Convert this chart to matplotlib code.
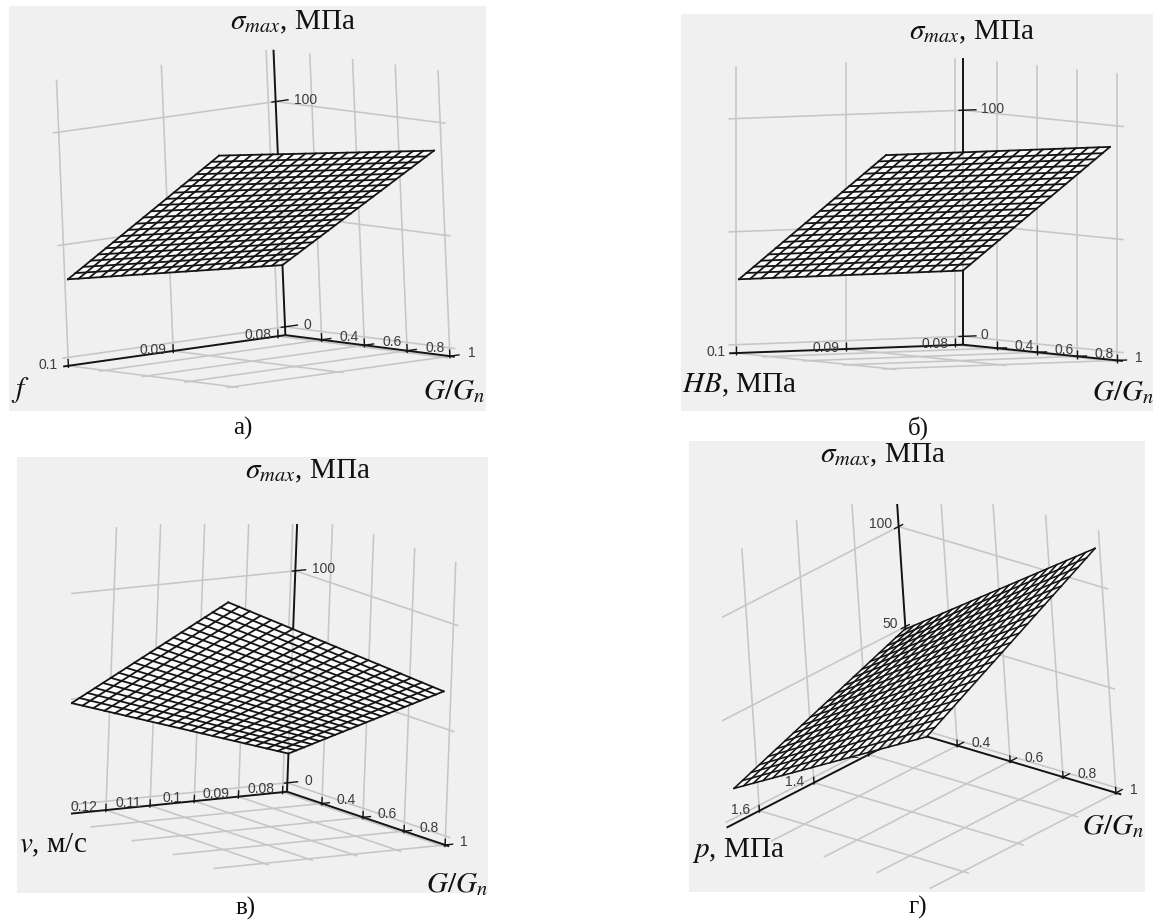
import numpy as np
import matplotlib
matplotlib.use("Agg")
import matplotlib.pyplot as plt
from matplotlib.patches import Rectangle
from mpl_toolkits.mplot3d import proj3d
from mpl_toolkits.mplot3d.art3d import Poly3DCollection

plt.rcParams["font.family"] = ["Liberation Serif", "DejaVu Serif"]
plt.rcParams["mathtext.fontset"] = "stix"

W, H = 1153, 921

# mesh nodes
g_nodes = [.23, .2668, .3035, .3403, .377, .4138, .4505, .4873, .524, .5608, .5975, .6343, .671, .7078, .7445, .7813, .818, .8548, .8915, .9283, .965]
g_nodes_p = [.284, .3189, .3538, .3887, .4236, .4585, .4934, .5283, .5632, .5981, .633, .6679, .7028, .7377, .7726, .8075, .8424, .8773, .9122, .9471, .982]
f_nodes = [.0793, .0803, .0813, .0824, .0834, .0844, .0854, .0864, .0875, .0885, .0895, .0905, .0915, .0926, .0936, .0946, .0956, .0966, .0977, .0987, .0997]
v_nodes = [.079, .0815, .084, .0865, .0889, .0914, .0939, .0964, .0989, .1014, .1039, .1063, .1088, .1113, .1138, .1163, .1188, .1212, .1237, .1262, .1287]
p_nodes = [1.04, 1.0747, 1.1094, 1.1441, 1.1788, 1.2135, 1.2482, 1.2829, 1.3176, 1.3523, 1.387, 1.4217, 1.4564, 1.4911, 1.5258, 1.5605, 1.5952, 1.6299, 1.6646, 1.6993, 1.734]

# sigma_max along the four edges of each surface, MPa
a_low_x = [27.4, 30.4, 33.4, 36.4, 39.3, 42.3, 45.3, 48.3, 51.3, 54.3, 57.3, 60.2, 63.2, 66.2, 69.2, 72.2, 75.2, 78.1, 81.1, 84.1, 87.1]
a_high_x = [34.5, 37.7, 40.9, 44.1, 47.3, 50.5, 53.6, 56.8, 60.0, 63.2, 66.4, 69.6, 72.8, 76.0, 79.2, 82.4, 85.5, 88.7, 91.9, 95.1, 98.3]
a_low_g = [27.4, 27.8, 28.1, 28.5, 28.8, 29.2, 29.5, 29.9, 30.2, 30.6, 31.0, 31.3, 31.7, 32.0, 32.4, 32.7, 33.1, 33.4, 33.8, 34.1, 34.5]
a_high_g = [87.1, 87.7, 88.2, 88.8, 89.3, 89.9, 90.5, 91.0, 91.6, 92.1, 92.7, 93.3, 93.8, 94.4, 94.9, 95.5, 96.1, 96.6, 97.2, 97.7, 98.3]

b_low_x = [29.1, 32.2, 35.2, 38.3, 41.4, 44.4, 47.5, 50.6, 53.6, 56.7, 59.8, 62.8, 65.9, 69.0, 72.0, 75.1, 78.1, 81.2, 84.3, 87.3, 90.4]
b_high_x = [28.9, 32.0, 35.1, 38.1, 41.2, 44.3, 47.4, 50.4, 53.5, 56.6, 59.7, 62.7, 65.8, 68.9, 72.0, 75.0, 78.1, 81.2, 84.2, 87.3, 90.4]
b_low_g = [29.1, 29.1, 29.1, 29.1, 29.1, 29.1, 29.0, 29.0, 29.0, 29.0, 29.0, 29.0, 29.0, 29.0, 29.0, 29.0, 28.9, 28.9, 28.9, 28.9, 28.9]
b_high_g = [90.4, 90.4, 90.4, 90.4, 90.4, 90.4, 90.4, 90.4, 90.4, 90.4, 90.4, 90.4, 90.4, 90.4, 90.4, 90.4, 90.4, 90.4, 90.4, 90.4, 90.4]

v_low_x = [13.8, 16.5, 19.1, 21.8, 24.5, 27.1, 29.8, 32.5, 35.1, 37.8, 40.5, 43.1, 45.8, 48.4, 51.1, 53.8, 56.4, 59.1, 61.8, 64.4, 67.1]
v_high_x = [48.1, 51.7, 55.3, 58.8, 62.4, 66.0, 69.6, 73.1, 76.7, 80.3, 83.9, 87.4, 91.0, 94.6, 98.2, 101.7, 105.3, 108.9, 112.5, 116.0, 119.6]
v_low_g = [13.8, 15.5, 17.2, 19.0, 20.7, 22.4, 24.1, 25.8, 27.5, 29.2, 31.0, 32.7, 34.4, 36.1, 37.8, 39.5, 41.2, 42.9, 44.7, 46.4, 48.1]
v_high_g = [67.1, 69.7, 72.4, 75.0, 77.6, 80.2, 82.9, 85.5, 88.1, 90.7, 93.4, 96.0, 98.6, 101.2, 103.9, 106.5, 109.1, 111.7, 114.4, 117.0, 119.6]

p_low_x = [-2.9, 3.2, 9.3, 15.3, 21.4, 27.5, 33.6, 39.7, 45.7, 51.8, 57.9, 64.0, 70.1, 76.1, 82.2, 88.3, 94.4, 100.5, 106.5, 112.6, 118.7]
p_high_x = [20.0, 25.3, 30.7, 36.0, 41.4, 46.7, 52.0, 57.4, 62.7, 68.1, 73.4, 78.7, 84.1, 89.4, 94.8, 100.1, 105.4, 110.8, 116.1, 121.5, 126.8]
p_low_g = [-2.9, -1.8, -.6, .5, 1.7, 2.8, 4.0, 5.1, 6.3, 7.4, 8.6, 9.7, 10.8, 12.0, 13.1, 14.3, 15.4, 16.6, 17.7, 18.9, 20.0]
p_high_g = [118.7, 119.1, 119.5, 119.9, 120.3, 120.7, 121.1, 121.5, 121.9, 122.3, 122.8, 123.2, 123.6, 124.0, 124.4, 124.8, 125.2, 125.6, 126.0, 126.4, 126.8]

# axis ticks
g_ticks = [.4, .6, .8, 1]
g_labels = ["0.4", "0.6", "0.8", "1"]
z_ticks = [0, 50, 100]
z_labels = ["0", "50", "100"]
f_ticks = [.08, .09, .1]
f_labels = ["0.08", "0.09", "0.1"]
v_ticks = [.08, .09, .1, .11, .12]
v_labels = ["0.08", "0.09", "0.1", "0.11", "0.12"]
p_ticks = [1.2, 1.4, 1.6]
p_labels = ["1.2", "1.4", "1.6"]


def px_rect(x0, y0, x1, y1):
    return Rectangle((x0 / W, 1 - y1 / H), (x1 - x0) / W, (y1 - y0) / H, transform=fig.transFigure,
                     facecolor="#f0f0f0", edgecolor="none", zorder=-5)


def draw_panel(view, aspect, box, xlim, xend, gend, zfloor, ztop, x_nodes, gn, low_x, high_x, low_g, high_g,
               x_ticks, x_labels, x_off, g_off, z_off, z_ha, mesh_lw, tick_span):
    L, cx, cy = box
    ax = fig.add_axes([(cx - L / 2) / W, (cy - L / 2) / H, L / W, L / H], projection="3d", computed_zorder=False)
    ax.set_xlim(*xlim)
    ax.set_ylim(.23, 1)
    ax.set_zlim(zfloor, zfloor + 100)
    ax.view_init(*view)
    ax.set_proj_type("ortho")
    ax.set_box_aspect(aspect)
    ax.set_axis_off()
    ax.patch.set_alpha(0)

    x0 = xlim[0]
    g0 = .23
    xr = xlim[1] - xlim[0]
    grid = dict(color="#c6c6c6", lw=1.15, zorder=1)
    line = dict(color="#141414", lw=1.4, zorder=3, solid_capstyle="butt")

    # walls and floor
    for t in x_ticks:
        ax.plot([t, t], [g0, g0], [zfloor, ztop], **grid)
        ax.plot([t, t], [g0, gend], [zfloor, zfloor], **grid)
    for t in g_ticks:
        ax.plot([x0, x0], [t, t], [zfloor, ztop], **grid)
        ax.plot([x0, xend], [t, t], [zfloor, zfloor], **grid)
    for t in z_ticks:
        ax.plot([x0, xend], [g0, g0], [t, t], **grid)
        ax.plot([x0, x0], [g0, gend], [t, t], **grid)

    # black axes with their ticks
    ax.plot([x0, xend], [g0, g0], [zfloor, zfloor], **line)
    ax.plot([x0, x0], [g0, gend], [zfloor, zfloor], **line)
    ax.plot([x0, x0], [g0, g0], [zfloor, ztop], **line)
    thin = dict(line, lw=1)
    for t in z_ticks:
        ax.plot([x0 - tick_span[0] * xr, x0 + tick_span[1] * xr], [g0, g0], [t, t], **thin)
    for t in x_ticks:
        ax.plot([t, t], [g0, g0], [zfloor - 1, zfloor + 3], **thin)
    for t in g_ticks:
        ax.plot([x0, x0], [t, t], [zfloor - 1, zfloor + 3], **thin)
        ax.plot([x0 - .045 * xr, x0 + .01 * xr], [t, t], [zfloor, zfloor], **thin)

    # tick labels, placed with a pixel offset from their projected tick
    M = ax.get_proj()
    num = dict(family="Liberation Sans", fontsize=10, color="#3c3c3c", va="center", zorder=4,
               textcoords="offset pixels", annotation_clip=False)

    def tick_text(x, y, z, s, off, ha):
        xs, ys, _ = proj3d.proj_transform(x, y, z, M)
        ax.annotate(s, (xs, ys), xytext=off, ha=ha, **num)

    for t, s in zip(x_ticks, x_labels):
        tick_text(t, g0, zfloor, s, x_off, "center")
    for t, s in zip(g_ticks, g_labels):
        tick_text(x0, t, zfloor, s, g_off, "left")
    for t, s in zip(z_ticks, z_labels):
        tick_text(x0, g0, t, s, z_off, z_ha)

    # surface: a pale skin and then the mesh lines from edge to edge
    corners = [(x_nodes[0], gn[0], low_x[0]), (x_nodes[0], gn[-1], low_x[-1]),
               (x_nodes[-1], gn[-1], high_x[-1]), (x_nodes[-1], gn[0], high_x[0])]
    skin = Poly3DCollection([corners], facecolor=(1, 1, 1, .82), edgecolor="none", zorder=5)
    ax.add_collection3d(skin)
    mesh = dict(color="#141414", lw=mesh_lw, zorder=6)
    for i in range(len(gn)):
        ax.plot([x_nodes[0], x_nodes[-1]], [gn[i], gn[i]], [low_x[i], high_x[i]], **mesh)
    for j in range(len(x_nodes)):
        ax.plot([x_nodes[j], x_nodes[j]], [gn[0], gn[-1]], [low_g[j], high_g[j]], **mesh)
    return ax


fig = plt.figure(figsize=(W / 100, H / 100), dpi=100, facecolor="white")

for r in [(9, 6, 486, 411), (681, 14, 1153, 411), (17, 457, 488, 893), (689, 441, 1145, 892)]:
    fig.add_artist(px_rect(*r))

draw_panel((7.46, 52.66, 2.38), (1.17, 1.15, .97), (433.7, 248.6, 666.8), (.0793, .1), .1005, 1.023, -3.7, 123,
           f_nodes, g_nodes, a_low_x, a_high_x, a_low_g, a_high_g,
           f_ticks, f_labels, (-20, 1), (18, 3), (18, 2), "left", 1.3, (.06, .02))
draw_panel((3.51, 58.99, 0), (1.10, 1.24, .94), (445.8, 920.3, 671.3), (.0793, .1), .1006, 1.03, -3.7, 123,
           f_nodes, g_nodes, b_low_x, b_high_x, b_low_g, b_high_g,
           f_ticks, f_labels, (-20, 1), (18, 2), (18, 1), "left", 1.3, (.06, .02))
draw_panel((11.72, 55.48, -2.16), (1.00, 1.29, .99), (405.6, 274.0, 194.0), (.079, .12), .1312, 1.02, -4.2, 129,
           v_nodes, g_nodes, v_low_x, v_high_x, v_low_g, v_high_g,
           v_ticks, v_labels, (-22, 3), (15, 3), (17, 2), "left", 1.3, (.06, .02))
draw_panel((23.65, 42.84, 3.81), (1.06, 1.24, 1.0), (406.8, 925.5, 213.8), (1.04, 1.6), 1.72, 1.02, -2.7, 128,
           p_nodes, g_nodes_p, p_low_x, p_high_x, p_low_g, p_high_g,
           p_ticks, p_labels, (-19, 1), (14, 3), (-7, 3), "right", 1.15, (.03, .03))

# axis titles and captions, all in figure pixels
big = dict(fontsize=21, ha="center", va="center", color="#111111")
labels = [
    (293, 22, r"$\sigma_{max}$, МПа"), (20, 390, r"$f$"), (454, 392, r"$G/G_n$"),
    (972, 32, r"$\sigma_{max}$, МПа"), (740, 385, r"$HB$, МПа"), (1123, 393, r"$G/G_n$"),
    (308, 471, r"$\sigma_{max}$, МПа"), (53, 845, r"$v$, м/с"), (457, 885, r"$G/G_n$"),
    (883, 455, r"$\sigma_{max}$, МПа"), (738, 850, r"$p$, МПа"), (1113, 827, r"$G/G_n$"),
]
for x, y, s in labels:
    fig.text(x / W, 1 - y / H, s, **big)

captions = [(243, 428, "а)"), (918, 428, "б)"), (246, 908, "в)"), (918, 907, "г)")]
for x, y, s in captions:
    fig.text(x / W, 1 - y / H, s, fontsize=18, ha="center", va="center", color="#111111")

fig.savefig("out.png", dpi=100)
